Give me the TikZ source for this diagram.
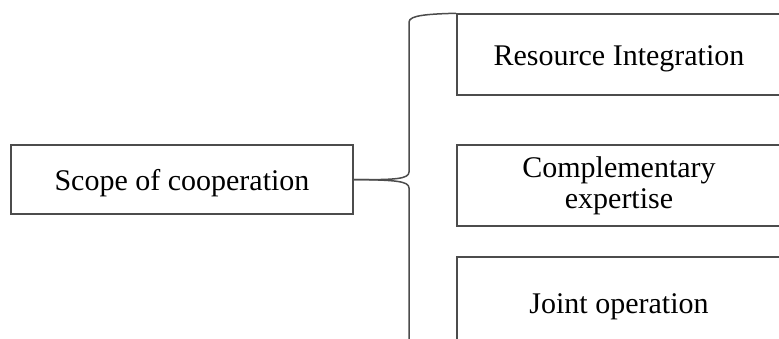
\documentclass[tikz,border=0pt]{standalone}
\usepackage{fontspec}
\setmainfont{Liberation Serif}
\begin{document}
\begin{tikzpicture}[x=1pt,y=-1pt,
  box/.style={draw=black!70,line width=1.5pt,rectangle,inner sep=0pt,align=center,font=\fontsize{30}{31}\selectfont},
  one/.style={text height=29pt,text depth=6.5pt},
  conn/.style={draw=black!70,line width=1.5pt}]
\useasboundingbox (0,0) rectangle (779,338);
\clip (0,0) rectangle (779,338);
\node[box,one,minimum width=342pt,minimum height=69pt] (scope) at (182,179.5) {Scope of cooperation};
\node[box,one,minimum width=324pt,minimum height=81pt] (res) at (619,54.5) {Resource Integration};
\node[box,minimum width=324pt,minimum height=81pt] (comp) at (619,185.5) {Complementary\\expertise};
\node[box,one,minimum width=324pt,minimum height=90pt] (joint) at (619,302) {Joint operation};
\coordinate (bend) at (409,345);
\draw[conn] (scope.east) .. controls (395,180) and (409,179) .. (409,172) -- (409,22) .. controls (409,15) and (430,14) .. (res.north west);
\draw[conn] (scope.east) .. controls (395,180) and (409,181) .. (409,188) -- (bend);
\end{tikzpicture}
\end{document}
